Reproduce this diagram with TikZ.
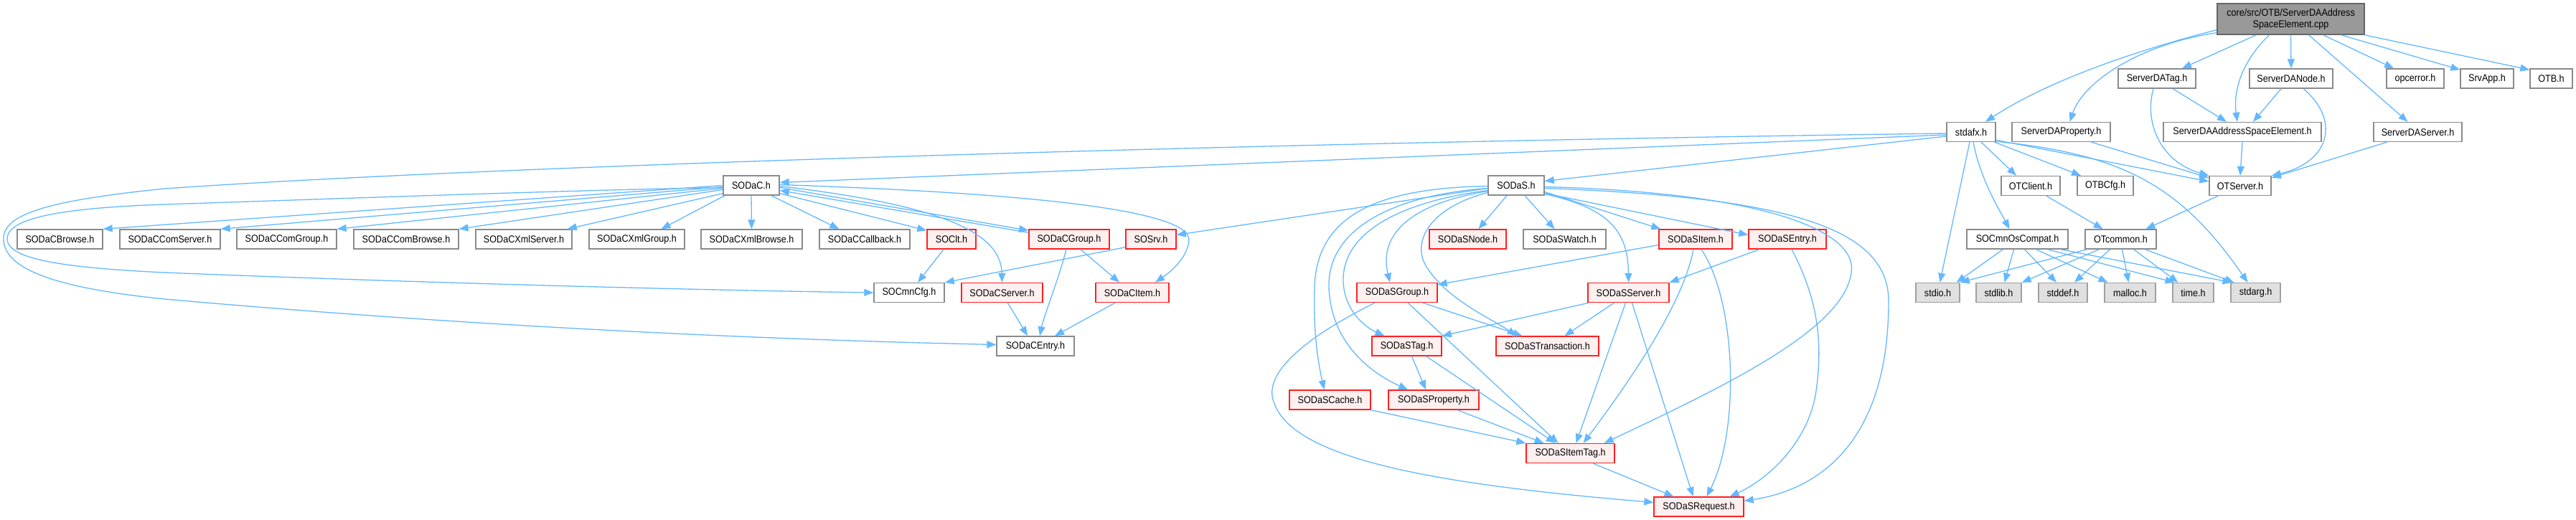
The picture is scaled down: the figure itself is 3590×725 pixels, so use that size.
\documentclass[tikz,border=0pt]{standalone}
\usepackage{fontspec}
\setmainfont{Liberation Sans}[FakeStretch=0.9]
\usetikzlibrary{arrows.meta,calc}
\definecolor{edgec}{HTML}{63B8FF}
\definecolor{nodegray}{HTML}{8A8A8A}
\definecolor{redb}{HTML}{FF2020}
\definecolor{redf}{HTML}{FFF0F0}
\definecolor{sysf}{HTML}{E0E0E0}
\definecolor{sysb}{HTML}{A0A0A0}
\definecolor{rootf}{HTML}{999999}
\definecolor{rootb}{HTML}{666666}
\begin{document}
\begin{tikzpicture}[x=1pt,y=-1pt,
  box/.style={draw=nodegray,line width=1.4pt,fill=white,inner sep=0pt,minimum height=27pt,font=\fontsize{14}{16}\selectfont},
  redbox/.style={box,draw=redb,fill=redf},
  sysbox/.style={box,draw=sysb,fill=sysf},
  rootbox/.style={box,draw=rootb,fill=rootf,minimum height=43pt,align=center},
  e/.style={draw=edgec,line width=1.3pt,-{Triangle[length=13pt,width=10pt]}}]
\useasboundingbox (0,0) rectangle (3590,725);
% row 0
\node[rootbox,minimum width=205pt] (root) at (3192.5,26.5) {core/src/OTB/ServerDAAddress\\SpaceElement.cpp};
% row 1
\node[box,minimum width=108pt] (ServerDATag) at (3006,109.5) {ServerDATag.h};
\node[box,minimum width=116pt] (ServerDANode) at (3193,109.5) {ServerDANode.h};
\node[box,minimum width=80pt] (opcerror) at (3366,109.5) {opcerror.h};
\node[box,minimum width=74pt] (SrvApp) at (3466,109.5) {SrvApp.h};
\node[box,minimum width=59pt] (OTB) at (3555.5,109.5) {OTB.h};
% row 2
\node[box,minimum width=68pt] (stdafx) at (2747,184) {stdafx.h};
\node[box,minimum width=137pt] (ServerDAProperty) at (2872.5,184) {ServerDAProperty.h};
\node[box,minimum width=220pt] (ServerDAASE) at (3125,184) {ServerDAAddressSpaceElement.h};
\node[box,minimum width=123pt] (ServerDAServer) at (3369.5,184) {ServerDAServer.h};
% row 3
\node[box,minimum width=78pt] (SODaC) at (1047,258.5) {SODaC.h};
\node[box,minimum width=78pt] (SODaS) at (2113,258.5) {SODaS.h};
\node[box,minimum width=82pt] (OTClient) at (2830,259) {OTClient.h};
\node[box,minimum width=78pt] (OTBCfg) at (2934,259) {OTBCfg.h};
\node[box,minimum width=86pt] (OTServer) at (3122,259) {OTServer.h};
% row 4
\node[box,minimum width=119pt] (SODaCBrowse) at (83.5,333.5) {SODaCBrowse.h};
\node[box,minimum width=140pt] (SODaCComServer) at (237,333.5) {SODaCComServer.h};
\node[box,minimum width=139pt] (SODaCComGroup) at (399.5,333.5) {SODaCComGroup.h};
\node[box,minimum width=146pt] (SODaCComBrowse) at (566,333.5) {SODaCComBrowse.h};
\node[box,minimum width=134pt] (SODaCXmlServer) at (730,333.5) {SODaCXmlServer.h};
\node[box,minimum width=133pt] (SODaCXmlGroup) at (887.5,333.5) {SODaCXmlGroup.h};
\node[box,minimum width=141pt] (SODaCXmlBrowse) at (1047.5,333.5) {SODaCXmlBrowse.h};
\node[box,minimum width=126pt] (SODaCCallback) at (1205,333.5) {SODaCCallback.h};
\node[redbox,minimum width=68pt] (SOClt) at (1326,333.5) {SOClt.h};
\node[redbox,minimum width=112pt] (SODaCGroup) at (1490,333.5) {SODaCGroup.h};
\node[redbox,minimum width=70pt] (SOSrv) at (1604,333.5) {SOSrv.h};
\node[redbox,minimum width=107pt] (SODaSNode) at (2045.5,333.5) {SODaSNode.h};
\node[box,minimum width=115pt] (SODaSWatch) at (2180.5,333.5) {SODaSWatch.h};
\node[redbox,minimum width=102pt] (SODaSItem) at (2363,333.5) {SODaSItem.h};
\node[redbox,minimum width=108pt] (SODaSEntry) at (2491,333.5) {SODaSEntry.h};
\node[box,minimum width=141pt] (SOCmnOsCompat) at (2811.5,333.5) {SOCmnOsCompat.h};
\node[box,minimum width=99pt] (OTcommon) at (2955.5,333.5) {OTcommon.h};
% row 5
\node[box,minimum width=98pt] (SOCmnCfg) at (1267,408) {SOCmnCfg.h};
\node[redbox,minimum width=113pt] (SODaCServer) at (1396.5,408) {SODaCServer.h};
\node[redbox,minimum width=102pt] (SODaCItem) at (1578,408) {SODaCItem.h};
\node[redbox,minimum width=112pt] (SODaSGroup) at (1947,408) {SODaSGroup.h};
\node[redbox,minimum width=113pt] (SODaSServer) at (2269.5,408) {SODaSServer.h};
\node[sysbox,minimum width=61pt] (stdio) at (2700.5,408) {stdio.h};
\node[sysbox,minimum width=63pt] (stdlib) at (2785.5,408) {stdlib.h};
\node[sysbox,minimum width=68pt] (stddef) at (2875,408) {stddef.h};
\node[sysbox,minimum width=71pt] (malloc) at (2968.5,408) {malloc.h};
\node[sysbox,minimum width=57pt] (time) at (3056.5,408) {time.h};
\node[sysbox,minimum width=69pt] (stdarg) at (3143.5,408) {stdarg.h};
% row 6
\node[box,minimum width=108pt] (SODaCEntry) at (1443,482.5) {SODaCEntry.h};
\node[redbox,minimum width=97pt] (SODaSTag) at (1960.5,482.5) {SODaSTag.h};
\node[redbox,minimum width=143pt] (SODaSTransaction) at (2156.5,482.5) {SODaSTransaction.h};
% row 7
\node[redbox,minimum width=113pt] (SODaSCache) at (1853.5,557.5) {SODaSCache.h};
\node[redbox,minimum width=126pt] (SODaSProperty) at (1998,557.5) {SODaSProperty.h};
% row 8
\node[redbox,minimum width=123pt] (SODaSItemTag) at (2188.5,632) {SODaSItemTag.h};
% row 9
\node[redbox,minimum width=125pt] (SODaSRequest) at (2367.5,706.5) {SODaSRequest.h};

% ---- edges from root
\draw[e] ($(root.south)+(-48,0)$) -- ($(ServerDATag.north)+(35,0)$);
\draw[e] ($(root.south)+(-30,0)$) .. controls (3125,85) and (3112,125) .. ($(ServerDAASE.north)+(-7,0)$);
\draw[e] (root.south) -- (ServerDANode.north);
\draw[e] ($(root.south)+(25,0)$) -- ($(ServerDAServer.north)+(-14,0)$);
\draw[e] ($(root.south)+(45,0)$) -- ($(opcerror.north)+(-30,0)$);
\draw[e] ($(root.south)+(70,0)$) -- ($(SrvApp.north west)+(0,2)$);
\draw[e] ($(root.south east)+(-1,0)$) -- ($(OTB.north west)+(0,2)$);
\draw[e] ($(root.south west)+(0,-7)$) .. controls (2970,72) and (2850,115) .. ($(stdafx.north)+(20,0)$);
\draw[e] ($(root.south west)+(0,-3)$) .. controls (2990,60) and (2905,110) .. ($(ServerDAProperty.north)+(12,0)$);
% ---- ServerDA*
\draw[e] ($(ServerDATag.south)+(22,0)$) -- ($(ServerDAASE.north)+(-22,0)$);
\draw[e] ($(ServerDATag.south)+(-5,0)$) .. controls (2988,170) and (3010,225) .. (OTServer.north west);
\draw[e] ($(ServerDANode.south)+(-14,0)$) -- ($(ServerDAASE.north)+(15,0)$);
\draw[e] ($(ServerDANode.south)+(17,0)$) .. controls (3260,165) and (3250,225) .. (OTServer.north east);
\draw[e] (ServerDAASE.south) -- (OTServer.north);
\draw[e] ($(ServerDAServer.south)+(-43,0)$) -- ($(OTServer.north east)+(0,3)$);
\draw[e] ($(ServerDAProperty.south)+(42,0)$) -- ($(OTServer.north west)+(0,3)$);
% ---- stdafx
\draw[e] ($(stdafx.south east)+(0,-3)$) -- ($(OTServer.west)+(0,-6)$);
\draw[e] ($(stdafx.south east)+(0,-1)$) .. controls (2960,215) and (3040,260) .. ($(stdarg.north)+(-11,0)$);
\draw[e] ($(stdafx.south)+(14,0)$) -- ($(OTClient.north)+(-20,0)$);
\draw[e] ($(stdafx.south east)+(-2,0)$) -- ($(OTBCfg.north)+(-34,0)$);
\draw[e] ($(stdafx.south)+(-2,0)$) -- ($(stdio.north)+(3,0)$);
\draw[e] ($(stdafx.south)+(3,0)$) .. controls (2760,250) and (2785,290) .. ($(SOCmnOsCompat.north)+(-11,0)$);
\draw[e] ($(stdafx.west)+(0,4)$) -- ($(SODaC.east)+(0,-4)$);
\draw[e] ($(stdafx.west)+(0,6)$) -- ($(SODaS.east)+(0,-6)$);
\draw[e] ($(stdafx.west)+(0,2)$) .. controls (1800,198) and (700,230) .. (230,263)
  .. controls (60,280) and (5,300) .. (5,333) .. controls (5,370) and (60,400) .. (230,417)
  .. controls (600,450) and (1000,472) .. ($(SODaCEntry.west)+(0,-2)$);
% ---- OT
\draw[e] ($(OTClient.south)+(22,0)$) -- ($(OTcommon.north)+(-25,0)$);
\draw[e] ($(OTServer.south)+(-31,0)$) -- ($(OTcommon.north)+(35,0)$);
\draw[e] ($(SOCmnOsCompat.south)+(-20,0)$) -- ($(stdio.north)+(26,0)$);
\draw[e] ($(SOCmnOsCompat.south)+(-5,0)$) -- ($(stdlib.north)+(8,0)$);
\draw[e] ($(SOCmnOsCompat.south)+(10,0)$) -- ($(stddef.north)+(-9,0)$);
\draw[e] ($(SOCmnOsCompat.south)+(26,0)$) -- ($(malloc.north)+(-31,0)$);
\draw[e] ($(SOCmnOsCompat.south)+(42,0)$) -- ($(time.north)+(-26,0)$);
\draw[e] ($(SOCmnOsCompat.south)+(60,0)$) -- ($(stdarg.north)+(-33,0)$);
\draw[e] ($(OTcommon.south)+(-47,0)$) -- (stdio.north east);
\draw[e] ($(OTcommon.south)+(-30,0)$) -- (stdlib.north east);
\draw[e] ($(OTcommon.south)+(-15,0)$) -- ($(stddef.north)+(16,0)$);
\draw[e] ($(OTcommon.south)+(2,0)$) -- ($(malloc.north)+(-2,0)$);
\draw[e] ($(OTcommon.south)+(18,0)$) -- ($(time.north)+(-21,0)$);
\draw[e] ($(OTcommon.south)+(34,0)$) -- ($(stdarg.north)+(-30,0)$);
% ---- SODaC
\draw[e] (SODaC.west) -- (SODaCBrowse.north east);
\draw[e] ($(SODaC.west)+(0,2)$) -- (SODaCComServer.north east);
\draw[e] ($(SODaC.west)+(0,4)$) -- (SODaCComGroup.north east);
\draw[e] ($(SODaC.west)+(0,6)$) -- (SODaCComBrowse.north east);
\draw[e] ($(SODaC.south west)+(0,-3)$) -- ($(SODaCXmlServer.north east)+(-7,0)$);
\draw[e] ($(SODaC.south)+(-37,0)$) -- ($(SODaCXmlGroup.north)+(34,0)$);
\draw[e] (SODaC.south) -- (SODaCXmlBrowse.north);
\draw[e] ($(SODaC.south)+(28,0)$) -- ($(SODaCCallback.north west)+(28,0)$);
\draw[e] ($(SODaC.south east)+(0,-3)$) -- ($(SOClt.north west)+(0,2)$);
\draw[e] ($(SODaC.east)+(0,3)$) -- ($(SODaCGroup.north west)+(0,2)$);
\draw[e] ($(SODaCGroup.north west)+(0,5)$) -- ($(SODaC.east)+(0,7)$);
\draw[e] ($(SODaC.east)+(0,1)$) .. controls (1300,285) and (1395,320) .. (SODaCServer.north);
\draw[e] ($(SODaC.east)+(0,-1)$) .. controls (1400,268) and (1660,290) .. (1657,335)
  .. controls (1655,360) and (1630,380) .. ($(SODaCItem.north)+(32,0)$);
\draw[e] ($(SODaC.west)+(0,3)$) .. controls (800,265) and (500,276) .. (230,285)
  .. controls (80,290) and (10,305) .. (10,333) .. controls (10,360) and (80,373) .. (230,380)
  .. controls (600,395) and (1000,405) .. (SOCmnCfg.west);
\draw[e] ($(SOClt.south)+(-11,0)$) -- ($(SOCmnCfg.north)+(12,0)$);
\draw[e] ($(SOSrv.south west)+(0,-3)$) -- (SOCmnCfg.north east);
\draw[e] ($(SODaCGroup.south)+(-4,0)$) .. controls (1475,390) and (1455,440) .. ($(SODaCEntry.north)+(6,0)$);
\draw[e] ($(SODaCGroup.south)+(16,0)$) -- ($(SODaCItem.north)+(-18,0)$);
\draw[e] ($(SODaCServer.south)+(8,0)$) -- ($(SODaCEntry.north)+(-11,0)$);
\draw[e] ($(SODaCItem.south)+(-24,0)$) -- ($(SODaCEntry.north)+(27,0)$);
% ---- SODaS
\draw[e] ($(SODaS.south)+(-13,0)$) -- ($(SODaSNode.north)+(15,0)$);
\draw[e] ($(SODaS.south)+(12,0)$) -- ($(SODaSWatch.north)+(-14,0)$);
\draw[e] ($(SODaS.west)+(0,4)$) -- ($(SOSrv.east)+(0,-6)$);
\draw[e] ($(SODaS.west)+(0,8)$) .. controls (1960,285) and (1922,330) .. ($(SODaSGroup.north)+(-10,0)$);
\draw[e] ($(SODaS.west)+(0,7)$) .. controls (1960,280) and (1872,320) .. (1872,390)
  .. controls (1872,430) and (1900,455) .. ($(SODaSTag.north west)+(18,0)$);
\draw[e] ($(SODaS.west)+(0,1)$) .. controls (1920,262) and (1835,300) .. (1832,400)
  .. controls (1830,470) and (1838,510) .. ($(SODaSCache.north)+(-8,0)$);
\draw[e] ($(SODaS.west)+(0,4)$) .. controls (1940,272) and (1850,320) .. (1852,400)
  .. controls (1854,470) and (1900,515) .. ($(SODaSProperty.north)+(-36,0)$);
\draw[e] ($(SODaS.west)+(0,10)$) .. controls (1990,290) and (1965,340) .. (1990,375)
  .. controls (2020,420) and (2080,445) .. ($(SODaSTransaction.north)+(-43,0)$);
\draw[e] ($(SODaS.east)+(0,9)$) -- ($(SODaSItem.north west)+(3,0)$);
\draw[e] ($(SODaS.east)+(0,11)$) -- ($(SODaSEntry.west)+(0,-6)$);
\draw[e] ($(SODaS.east)+(0,12)$) .. controls (2240,290) and (2269,320) .. (SODaSServer.north);
\draw[e] ($(SODaS.east)+(0,2)$) .. controls (2450,268) and (2590,320) .. (2580,380)
  .. controls (2570,460) and (2400,540) .. ($(SODaSItemTag.north east)+(-15,0)$);
\draw[e] ($(SODaS.east)+(0,4)$) .. controls (2500,275) and (2632,320) .. (2632,420)
  .. controls (2632,600) and (2550,680) .. ($(SODaSRequest.east)+(0,-8)$);
% ---- SODaS* children
\draw[e] ($(SODaSItem.west)+(0,8)$) -- ($(SODaSGroup.north east)+(0,3)$);
\draw[e] ($(SODaSItem.south)+(-3,0)$) .. controls (2350,400) and (2310,480) .. ($(SODaSItemTag.north)+(18,0)$);
\draw[e] ($(SODaSItem.south)+(8,0)$) .. controls (2420,420) and (2425,600) .. ($(SODaSRequest.north)+(11,0)$);
\draw[e] ($(SODaSEntry.south)+(-39,0)$) -- (SODaSServer.north east);
\draw[e] ($(SODaSEntry.south)+(6,0)$) .. controls (2535,420) and (2540,480) .. (2531,545)
  .. controls (2520,620) and (2460,670) .. ($(SODaSRequest.north east)+(-20,0)$);
\draw[e] ($(SODaSServer.south west)+(2,0)$) -- (SODaSTag.north east);
\draw[e] ($(SODaSServer.south)+(-20,0)$) -- ($(SODaSTransaction.north)+(24,0)$);
\draw[e] ($(SODaSServer.south)+(-4,0)$) -- ($(SODaSItemTag.north)+(8,0)$);
\draw[e] ($(SODaSServer.south)+(5,0)$) -- ($(SODaSRequest.north)+(-8,0)$);
\draw[e] ($(SODaSGroup.south)+(36,0)$) -- ($(SODaSTransaction.north)+(-35,0)$);
\draw[e] ($(SODaSGroup.south)+(15,0)$) -- ($(SODaSItemTag.north)+(-17,0)$);
\draw[e] ($(SODaSGroup.south)+(-31,0)$) .. controls (1820,470) and (1760,520) .. (1775,560)
  .. controls (1800,640) and (2000,675) .. ($(SODaSRequest.west)+(0,-6)$);
\draw[e] ($(SODaSTag.south)+(7,0)$) -- ($(SODaSProperty.north)+(-11,0)$);
\draw[e] ($(SODaSTag.south)+(27,0)$) -- ($(SODaSItemTag.north)+(-21,0)$);
\draw[e] (SODaSCache.south east) -- (SODaSItemTag.north west);
\draw[e] ($(SODaSProperty.south)+(33,0)$) -- ($(SODaSItemTag.north)+(-37,0)$);
\draw[e] ($(SODaSItemTag.south)+(32,0)$) -- ($(SODaSRequest.north)+(-35,0)$);
\end{tikzpicture}
\end{document}
